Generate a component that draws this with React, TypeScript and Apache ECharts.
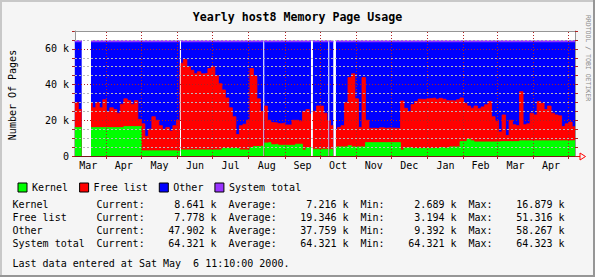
import React, { useEffect, useRef } from 'react';
import * as echarts from 'echarts';

const FONT = "'DejaVu Sans Mono', 'Liberation Mono', monospace";

// x values are days counted from 1999-03-01 (day 0); one sample every 3 days
const axisStartDay = 4.17;
const lastUpdateDay = 432.47; // Sat May 6 2000 11:10
const firstSampleDay = 4;
const sampleStepDays = 3;

// values in thousands of pages
const kernel: (number | null)[] = [
  15.9, 15.9, null, null, 15.9, 15.9, 15.9, 15.9, 15.9, 15.9,
  15.9, 15.9, 15.9, 15.9, 16.5, 16.5, 16.5, 16.5, 16.5, 2.9,
  2.9, 2.9, 2.9, 2.9, 2.9, 2.9, 2.9, 2.9, 2.9, 2.6,
  3.4, 3.4, 3.4, 3.4, 3.4, 3.4, 3.4, 3.4, 3.4, 3.4,
  3.4, 3.4, 4.2, 4.2, 4.2, 4.2, 4.2, 3.4, 3.4, 3.4,
  4.7, 5.3, 5.3, 5.6, 7.3, 7.6, 6.3, 6.6, 6.0, 6.0,
  6.0, 6.0, 6.0, 6.6, 6.6, 3.3, 4.7, 4.7, 3.8, 3.8,
  3.8, 3.8, 3.8, 3.8, 5.1, 5.1, 5.1, 5.1, 5.8, 5.1,
  5.1, 5.1, 5.1, 7.5, 7.5, 7.5, 7.5, 7.5, 7.5, 7.5,
  7.5, 7.5, 7.5, 3.3, 4.5, 4.6, 4.2, 4.2, 4.2, 4.2,
  4.2, 4.2, 4.2, 4.2, 4.7, 4.4, 4.4, 5.1, 5.1, 5.1,
  8.1, 8.1, 9.4, 8.5, 7.9, 7.9, 7.9, 7.9, 7.9, 7.9,
  7.9, 8.1, 8.1, 8.1, 8.1, 8.1, 8.1, 8.5, 8.5, 8.5,
  8.5, 8.5, 8.5, 8.5, 8.5, 8.5, 8.5, 8.5, 8.5, 8.5,
  8.5, 8.5, 8.6,
];

const freeList: (number | null)[] = [
  14.1, 10.1, null, null, 13.9, 11.1, 14.1, 11.1, 15.6, 9.1,
  11.1, 10.1, 8.1, 13.1, 15.5, 14.5, 12.5, 14.5, 4.0, 15.1,
  8.1, 12.1, 19.1, 17.1, 14.1, 12.1, 13.1, 11.1, 14.1, 17.4,
  48.6, 50.6, 46.6, 44.6, 42.6, 43.8, 42.6, 42.9, 45.6, 46.6,
  41.6, 37.1, 32.8, 28.3, 22.8, 17.8, 7.8, 13.6, 14.4, 16.6,
  44.3, 39.7, 26.7, 19.4, 20.7, 12.4, 12.4, 11.9, 12.1, 12.4,
  11.4, 11.4, 14.0, 13.4, 12.9, 21.7, 21.3, 18.8, 21.2, 24.2,
  24.2, 20.2, 15.8, 13.2, 9.9, 10.9, 11.9, 24.9, 38.2, 40.9,
  26.9, 10.9, 38.9, 12.5, 8.0, 8.0, 7.8, 8.3, 8.0, 8.2,
  8.1, 8.0, 7.9, 27.5, 22.2, 20.4, 24.6, 26.3, 27.6, 27.5,
  27.8, 28.0, 28.3, 27.6, 27.6, 27.4, 26.6, 25.9, 25.7, 26.4,
  24.4, 21.4, 18.6, 18.3, 20.1, 18.6, 19.6, 20.8, 22.6, 14.1,
  11.6, 5.4, 14.9, 3.4, 11.9, 9.4, 8.9, 27.5, 9.0, 9.5,
  15.5, 14.5, 22.0, 21.0, 17.5, 19.5, 15.5, 14.5, 14.0, 8.0,
  9.5, 10.5, 7.8,
];

const systemTotal = 64.321;

// periods with unknown data (start day, end day)
const unknownPeriods: [number, number][] = [
  [9.9, 17.9], [94.1, 95.0], [165.4, 166.3], [206.3, 208.0], [221.1, 222.0], [225.4, 227.7],
];

const monthStarts = [31, 61, 92, 122, 153, 184, 214, 245, 275, 306, 337, 366, 397, 427];
const monthLabelDays = [15.5, 46, 76.5, 107, 137.5, 168.5, 199, 229.5, 260, 290.5, 321.5, 351.5, 381.5, 412];
const monthLabels = ['Mar', 'Apr', 'May', 'Jun', 'Jul', 'Aug', 'Sep', 'Oct', 'Nov', 'Dec', 'Jan', 'Feb', 'Mar', 'Apr'];

const minorGridValues = [5, 10, 15, 25, 30, 35, 45, 50, 55, 65];
const majorGridValues = [20, 40, 60];

const titleText = 'Yearly host8 Memory Page Usage';
const yAxisTitle = 'Number Of Pages';
const sideText = 'RRDTOOL / TOBI OETIKER';
const legendNames = ['Kernel', 'Free list', 'Other', 'System total'];
const seriesColors = ['#00ff00', '#ff0000', '#0000ff', '#9933ff'];

const statNames = ['Kernel', 'Free list', 'Other', 'System total'];
const statCurrent = ['8.641 k', '7.778 k', '47.902 k', '64.321 k'];
const statAverage = ['7.216 k', '19.346 k', '37.759 k', '64.321 k'];
const statMin = ['2.689 k', '3.194 k', '9.392 k', '64.321 k'];
const statMax = ['16.879 k', '51.316 k', '58.267 k', '64.323 k'];
const lastDataText = 'Last data entered at Sat May  6 11:10:00 2000.';

type Pt = [number, number | null];

const sampleDays = kernel.map((_, i) => firstSampleDay + sampleStepDays * i);
const gapStarts = unknownPeriods.map((p) => p[0]);
const gapEnds = unknownPeriods.map((p) => p[1]);
const breakpoints = Array.from(new Set([...sampleDays, ...gapStarts, ...gapEnds, lastUpdateDay])).sort((a, b) => a - b);

function sampleIndex(x: number) {
  return Math.min(kernel.length - 1, Math.max(0, Math.floor((x - firstSampleDay) / sampleStepDays + 1e-9)));
}
function inGap(x: number) {
  return unknownPeriods.some(([a, b]) => x >= a && x < b);
}
function build(get: (i: number) => number | null): Pt[] {
  const out: Pt[] = [];
  for (const x of breakpoints) {
    const v = get(sampleIndex(x));
    if (gapStarts.includes(x)) {
      out.push([x, v]);
      out.push([x + 0.001, null]);
    } else {
      out.push([x, inGap(x) ? null : v]);
    }
  }
  return out;
}

// stacked levels (drawn as overlapping areas from zero, bottom layer last)
const kernelTop = build((i) => kernel[i]);
const freeTop = build((i) => {
  const k = kernel[i];
  const f = freeList[i];
  return k == null || f == null ? null : +(k + f).toFixed(3);
});
const otherTop = build((i) => (kernel[i] == null || freeList[i] == null ? null : systemTotal));
const totalPts = build((i) => (kernel[i] == null ? null : systemTotal));

function txt(text: string, x: number, y: number, align = 'left', extra: any = {}) {
  return {
    type: 'text',
    x,
    y,
    silent: true,
    style: {
      text,
      fontFamily: FONT,
      fontSize: 10,
      fill: '#000',
      align,
      textAlign: align,
      verticalAlign: 'middle',
      textVerticalAlign: 'middle',
      ...extra,
    },
  };
}

function buildOption(): any {
  const grid = { left: 75, top: 31, width: 500, height: 125 };
  const areaSeries = (idx: number, data: Pt[], z: number) => ({
    name: legendNames[idx],
    type: 'line',
    step: 'end',
    symbol: 'none',
    showSymbol: false,
    connectNulls: false,
    silent: true,
    data,
    itemStyle: { color: seriesColors[idx] },
    lineStyle: { width: 0.8, color: seriesColors[idx] },
    areaStyle: { color: seriesColors[idx], opacity: 1, origin: 'start' },
    z,
  });

  const gridLines = [
    ...minorGridValues.map((v) => ({ yAxis: v, lineStyle: { color: '#b8b8b8', type: [2, 2], width: 1 } })),
    ...majorGridValues.map((v) => ({ yAxis: v, lineStyle: { color: '#b02020', type: [1, 2], width: 1 } })),
    ...monthStarts.map((d) => ({ xAxis: d, lineStyle: { color: '#b02020', type: [1, 2], width: 1 } })),
  ];

  const stats: any[] = [];
  const rowY = [204.3, 217.3, 230.3, 243.3];
  statNames.forEach((n, r) => {
    const y = rowY[r];
    stats.push(txt(n, 12.5, y));
    stats.push(txt('Current:', 96.5, y));
    stats.push(txt(statCurrent[r], 216.5, y, 'right'));
    stats.push(txt('Average:', 228.5, y));
    stats.push(txt(statAverage[r], 348.5, y, 'right'));
    stats.push(txt('Min:', 360.5, y));
    stats.push(txt(statMin[r], 456.5, y, 'right'));
    stats.push(txt('Max:', 468.5, y));
    stats.push(txt(statMax[r], 564.5, y, 'right'));
  });

  return {
    animation: false,
    backgroundColor: '#f5f5f5',
    grid: { ...grid, show: true, backgroundColor: '#ffffff', borderWidth: 0 },
    legend: {
      show: true,
      left: 12.5,
      top: 177.5,
      itemWidth: 9,
      itemHeight: 9,
      itemGap: 11,
      icon: 'rect',
      selectedMode: false,
      itemStyle: { borderColor: '#000', borderWidth: 1 },
      textStyle: { fontFamily: FONT, fontSize: 10, color: '#000' },
      data: legendNames,
    },
    xAxis: [
      {
        type: 'value',
        min: axisStartDay,
        max: lastUpdateDay,
        position: 'bottom',
        z: 10,
        axisLine: { show: true, onZero: false, lineStyle: { color: '#7a1a1a', width: 1 } },
        axisTick: { show: true, customValues: monthStarts, length: 3, lineStyle: { color: '#b02020' } },
        axisLabel: {
          customValues: monthLabelDays,
          formatter: (v: number) => {
            const i = monthLabelDays.findIndex((d) => Math.abs(d - v) < 0.01);
            return i >= 0 ? monthLabels[i] : '';
          },
          fontFamily: FONT,
          fontSize: 10,
          color: '#000',
          margin: 4,
        },
        splitLine: { show: false },
      },
      {
        type: 'value',
        min: axisStartDay,
        max: lastUpdateDay,
        position: 'top',
        z: 10,
        axisLine: { show: true, onZero: false, lineStyle: { color: '#969696', width: 1 } },
        axisTick: { show: false },
        axisLabel: { show: false },
        splitLine: { show: false },
      },
    ],
    yAxis: [
      {
        type: 'value',
        min: 0,
        max: 70,
        interval: 5,
        position: 'left',
        axisLine: { show: true, onZero: false, lineStyle: { color: '#969696' } },
        axisTick: { show: true, length: 3, lineStyle: { color: '#b02020' } },
        axisLabel: {
          formatter: (v: number) => (v % 20 === 0 ? (v === 0 ? '0' : `${v} k`) : ''),
          fontFamily: FONT,
          fontSize: 10,
          color: '#000',
          margin: 6,
        },
        splitLine: { show: false },
      },
      {
        type: 'value',
        min: 0,
        max: 70,
        interval: 5,
        position: 'right',
        z: 10,
        axisLine: { show: true, onZero: false, lineStyle: { color: '#969696' } },
        axisTick: { show: true, length: 3, lineStyle: { color: '#b02020' } },
        axisLabel: { show: false },
        splitLine: { show: false },
      },
    ],
    series: [
      areaSeries(2, otherTop, 1),
      areaSeries(1, freeTop, 2),
      areaSeries(0, kernelTop, 3),
      {
        name: legendNames[3],
        type: 'line',
        step: 'end',
        symbol: 'none',
        showSymbol: false,
        connectNulls: false,
        silent: true,
        data: totalPts,
        itemStyle: { color: seriesColors[3] },
        lineStyle: { width: 2, color: seriesColors[3] },
        z: 4,
        markLine: {
          silent: true,
          symbol: 'none',
          label: { show: false },
          animation: false,
          data: gridLines,
        },
      },
    ],
    graphic: [
      { type: 'rect', silent: true, shape: { x: 0, y: 0, width: 595, height: 2 }, style: { fill: '#c8c8c8' } },
      { type: 'rect', silent: true, shape: { x: 0, y: 0, width: 2, height: 277 }, style: { fill: '#c8c8c8' } },
      { type: 'rect', silent: true, shape: { x: 0, y: 275, width: 595, height: 2 }, style: { fill: '#969696' } },
      { type: 'rect', silent: true, shape: { x: 593, y: 0, width: 2, height: 277 }, style: { fill: '#969696' } },
      txt(titleText, 297.5, 16.5, 'center', { fontSize: 11.6, fontWeight: 'bold' }),
      { ...txt(yAxisTitle, 12.7, 95, 'center'), rotation: Math.PI / 2 },
      { ...txt(sideText, 588, 58, 'center', { fontSize: 6.5, fill: '#8a8a8a' }), rotation: -Math.PI / 2 },
      { type: 'line', silent: true, shape: { x1: 575, y1: 156.5, x2: 580, y2: 156.5 }, style: { stroke: '#ff0000', lineWidth: 1 } },
      {
        type: 'polygon',
        silent: true,
        shape: { points: [[580, 153], [585.5, 156.5], [580, 160]] },
        style: { stroke: '#ff0000', fill: 'none', lineWidth: 1 },
      },
      ...stats,
      txt(lastDataText, 12.5, 263.3),
    ],
  };
}

export default function App() {
  const ref = useRef<HTMLDivElement>(null);
  useEffect(() => {
    if (!ref.current) return;
    const chart = echarts.init(ref.current, null, { renderer: 'svg' });
    chart.setOption(buildOption());
    return () => chart.dispose();
  }, []);
  return <div ref={ref} style={{ position: 'absolute', left: 0, top: 0, width: 595, height: 277 }} />;
}
